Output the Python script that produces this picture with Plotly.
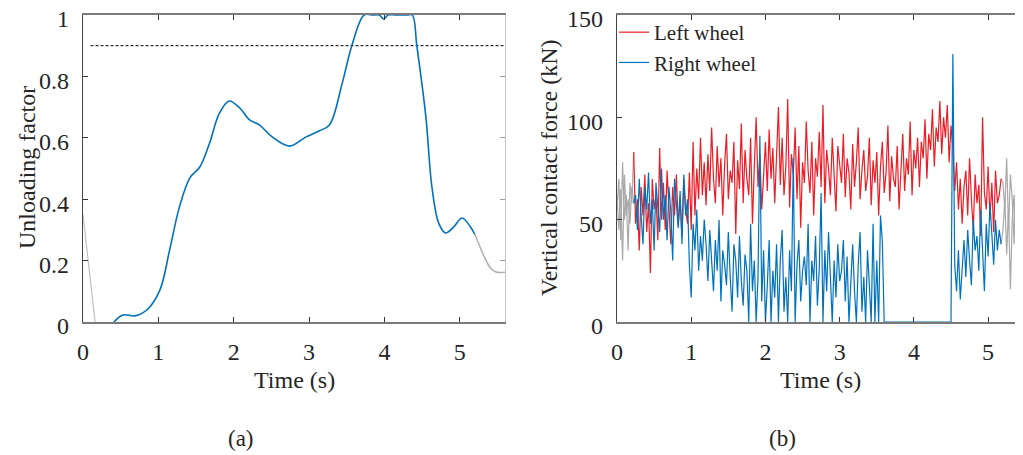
import plotly.graph_objects as go

# ---------------- Panel (a): unloading factor ----------------
uf_time = [0.41, 0.53, 0.69, 0.85, 1.02, 1.15, 1.28, 1.42, 1.55, 1.68, 1.81, 1.94, 2.08, 2.21,
           2.34, 2.51, 2.74, 2.96, 3.13, 3.27, 3.44, 3.57, 3.73, 3.85, 3.93, 3.99, 4.05, 4.15,
           4.3, 4.37, 4.43, 4.55, 4.63, 4.72, 4.81, 4.92, 5.03, 5.14, 5.2]
uf_value = [0.0, 0.023, 0.02, 0.04, 0.104, 0.235, 0.375, 0.47, 0.505, 0.583, 0.68, 0.72, 0.697,
            0.658, 0.642, 0.603, 0.573, 0.603, 0.622, 0.642, 0.778, 0.902, 1.0, 1.0, 1.0, 0.987,
            1.0, 1.0, 1.0, 1.0, 0.90, 0.668, 0.44, 0.322, 0.29, 0.31, 0.339, 0.31, 0.285]
uf_gray_start_t = [0.0, 0.08, 0.16, 0.25]
uf_gray_start_v = [0.35, 0.17, 0.0, -0.1]
uf_gray_end_t = [5.2, 5.26, 5.32, 5.41, 5.48, 5.6]
uf_gray_end_v = [0.285, 0.25, 0.215, 0.175, 0.163, 0.162]
uf_limit = 0.9

# ---------------- Panel (b): vertical contact force ----------------
t0 = 0.225
dt = 0.025
left_wheel = [83, 48, 60, 35, 66, 52, 72, 44, 58, 24, 70, 55, 62, 40, 85, 50, 68, 45, 74, 58, 38, 66,
              52, 72, 47, 60, 42, 70, 55, 48, 73, 45,
              88, 52, 75, 60, 90, 62, 78, 57,
              82, 64, 95, 70, 58, 86, 66, 80, 52, 77, 92, 60, 74, 68, 88, 43, 79, 65, 97, 58, 84, 70,
              62, 90, 48, 76, 100, 66, 82, 55, 73, 88,
              64, 94, 70, 85, 58, 79, 105, 67, 90, 62, 76, 109, 56, 82, 72, 95, 60, 86, 46, 78, 68,
              98, 74, 63, 88, 52, 80, 71, 93, 66, 106, 58, 84, 75, 62, 90, 70, 54, 86, 77,
              68, 92, 61, 80, 73, 55, 87, 66, 78, 95, 60, 74, 84, 64, 71, 90, 57, 79, 68, 83, 52, 76,
              88, 63, 73, 96, 59, 81, 70, 66, 86, 55, 78, 92, 64, 80, 72, 98, 62, 84,
              75, 90, 66, 88, 80, 99, 70, 92, 84, 104, 76, 95, 88, 108, 82, 100, 90, 106, 78, 96,
              85, 64, 78, 55, 70, 48, 66, 74, 52, 80, 60, 45, 72, 58, 67, 42, 100, 63, 55, 76, 50, 68,
              44, 74, 58, 62, 70]
right_wheel = [58, 62, 45, 70, 52, 38, 66, 55, 73, 48, 60, 35, 68, 57, 44, 75, 50, 62, 40, 66, 54, 30,
               70, 58, 46, 64, 38, 72, 52, 60, 28, 12,
               48, 35, 55, 25, 42, 30, 50, 38,
               20, 45, 30, 15, 40, 25, 50, 10, 35, 28, 18, 44, 22, 5, 38, 30, 12, 42, 20, 8, 33, 25,
               0, 48, 15, 30, 0, 22, 91, 10, 35, 0,
               18, 40, 0, 25, 12, 38, 0, 30, 45, 5, 22, 0, 35, 15, 80, 0, 28, 40, 10, 25, 32, 18, 48,
               0, 30, 20, 42, 8, 26, 63, 0, 35, 15, 44, 22, 0, 30, 12, 38, 20,
               25, 40, 10, 32, 0, 20, 38, 15, 0, 28, 44, 5, 22, 0, 35, 18, 0, 48, 0, 30, 0, 52, 39,
               0, 0, 0, 0, 0, 0, 0, 0, 0, 0, 0, 0, 0, 0, 0, 0, 0,
               0, 0, 0, 0, 0, 0, 0, 0, 0, 0, 0, 0, 0, 0, 0, 0, 0, 0, 0, 0,
               131, 28, 15, 35, 11, 28, 40, 22, 45, 30, 18, 50, 35, 42, 25, 55, 38, 15, 48, 32, 58,
               40, 28, 50, 35, 45, 38]
gray_pre_t = [0.0, 0.025, 0.05, 0.075, 0.1, 0.125, 0.15, 0.175, 0.2, 0.225]
gray_pre_left = [55, 70, 40, 78, 50, 62, 35, 68, 58, 83]
gray_pre_right = [62, 45, 65, 30, 72, 52, 60, 48, 66, 58]
gray_post_t = [5.175, 5.2, 5.225, 5.25, 5.275, 5.3, 5.325, 5.35, 5.375, 5.4, 5.425, 5.45, 5.475]
gray_post_left = [70, 68, 55, 80, 45, 72, 60, 38, 75, 52, 66, 48, 70]
gray_post_right = [38, 45, 60, 33, 55, 16, 50, 62, 40, 58, 35, 52, 45]

force_time = [round(t0 + i * dt, 4) for i in range(len(left_wheel))]

FONT = "Liberation Serif"
TXT = "#262626"
BLUE = "#0072BD"
RED = "#ED1C24"
GRAY = "#A9A9A9"

# page body has an 8px margin; figure is sized so the whole page fits the 1023x455 window
OFF = 8
W, H = 1023 - OFF, 455 - OFF
def px(x):
    return (x - OFF) / W
def py(y):
    return 1 - (y - OFF) / H

fig = go.Figure()

# panel (a)
fig.add_trace(go.Scatter(x=[0.1, 5.6], y=[uf_limit, uf_limit], mode="lines",
                         line=dict(color="black", width=1, dash="3px,2px"),
                         xaxis="x", yaxis="y", showlegend=False))
fig.add_trace(go.Scatter(x=uf_gray_start_t, y=uf_gray_start_v, mode="lines",
                         line=dict(color="#C0C0C0", width=1.2), xaxis="x", yaxis="y", showlegend=False))
fig.add_trace(go.Scatter(x=uf_gray_end_t, y=uf_gray_end_v, mode="lines",
                         line=dict(color="#B0B0B0", width=1.5, shape="spline"),
                         xaxis="x", yaxis="y", showlegend=False))
fig.add_trace(go.Scatter(x=uf_time, y=uf_value, mode="lines",
                         line=dict(color=BLUE, width=1.6, shape="spline", smoothing=1.0),
                         xaxis="x", yaxis="y", showlegend=False))

# panel (b)
fig.add_trace(go.Scatter(x=gray_pre_t, y=gray_pre_left, mode="lines", line=dict(color=GRAY, width=1.2),
                         xaxis="x2", yaxis="y2", showlegend=False))
fig.add_trace(go.Scatter(x=gray_pre_t, y=gray_pre_right, mode="lines", line=dict(color=GRAY, width=1.2),
                         xaxis="x2", yaxis="y2", showlegend=False))
fig.add_trace(go.Scatter(x=gray_post_t, y=gray_post_left, mode="lines", line=dict(color=GRAY, width=1.2),
                         xaxis="x2", yaxis="y2", showlegend=False))
fig.add_trace(go.Scatter(x=gray_post_t, y=gray_post_right, mode="lines", line=dict(color=GRAY, width=1.2),
                         xaxis="x2", yaxis="y2", showlegend=False))
fig.add_trace(go.Scatter(x=force_time, y=left_wheel, mode="lines", name="Left wheel",
                         line=dict(color=RED, width=1.2), xaxis="x2", yaxis="y2"))
fig.add_trace(go.Scatter(x=force_time, y=right_wheel, mode="lines", name="Right wheel",
                         line=dict(color=BLUE, width=1.2), xaxis="x2", yaxis="y2"))

ydom = [py(322), py(15)]
tickfont = dict(family=FONT, size=24, color=TXT)
common_x = dict(showgrid=False, zeroline=False, showline=True, linecolor="#7a7a7a", linewidth=1.5,
                mirror="ticks", ticks="inside", ticklen=5, tickcolor="#333", tickwidth=1,
                tickfont=tickfont, ticklabelstandoff=7, dtick=1, tick0=0, automargin=False,
                ticklabeloverflow="allow")
common_y = dict(showgrid=False, zeroline=False, showline=True, linecolor="#444", linewidth=1.2,
                ticks="inside", ticklen=5, tickcolor="#333", tickwidth=1, tickfont=tickfont,
                ticklabelstandoff=8, ticklabelshift=4, automargin=False, ticklabeloverflow="allow")

def label(text, x, y, size=24, angle=0):
    return dict(text=text, x=px(x), y=py(y), xref="paper", yref="paper", showarrow=False,
                xanchor="center", yanchor="middle", textangle=angle,
                font=dict(family=FONT, size=size, color=TXT))

fig.update_layout(
    width=W, height=H,
    margin=dict(l=0, r=0, t=0, b=0, autoexpand=False),
    paper_bgcolor="white", plot_bgcolor="white",
    font=dict(family=FONT, color=TXT),
    xaxis=dict(domain=[px(83), px(505)], range=[0, 5.6], anchor="y", **common_x),
    yaxis=dict(domain=ydom, range=[0, 1], anchor="x", tickvals=[0, 0.2, 0.4, 0.6, 0.8, 1],
               ticktext=["0", "0.2", "0.4", "0.6", "0.8", "1"], **common_y),
    yaxis3=dict(overlaying="y", side="right", anchor="x", range=[0, 1], showgrid=False, zeroline=False,
                showline=True, linecolor="#c8c8c8", linewidth=1, ticks="inside", ticklen=5,
                tickcolor="#999", tickvals=[0, 0.2, 0.4, 0.6, 0.8, 1], showticklabels=False,
                automargin=False),
    xaxis2=dict(domain=[px(617), 1.0], range=[0, 5.47], anchor="y2", **common_x),
    yaxis2=dict(domain=ydom, range=[0, 150], anchor="x2", tickvals=[0, 50, 100, 150], **common_y),
    legend=dict(x=px(614), y=py(12), xanchor="left", yanchor="top", bgcolor="rgba(0,0,0,0)",
                font=dict(family=FONT, size=21, color=TXT), tracegroupgap=0, itemwidth=30),
    annotations=[
        label("Unloading factor", 27, 168, angle=-90),
        label("Vertical contact force (kN)", 549, 168, angle=-90),
        label("Time (s)", 294, 380),
        label("Time (s)", 820, 380),
        label("(a)", 241, 438, size=23),
        label("(b)", 782, 438, size=23),
    ],
)
# dummy trace to activate yaxis3 (right spine of panel a)
fig.add_trace(go.Scatter(x=[None], y=[None], xaxis="x", yaxis="y3", showlegend=False))

fig.write_html("out.html")
